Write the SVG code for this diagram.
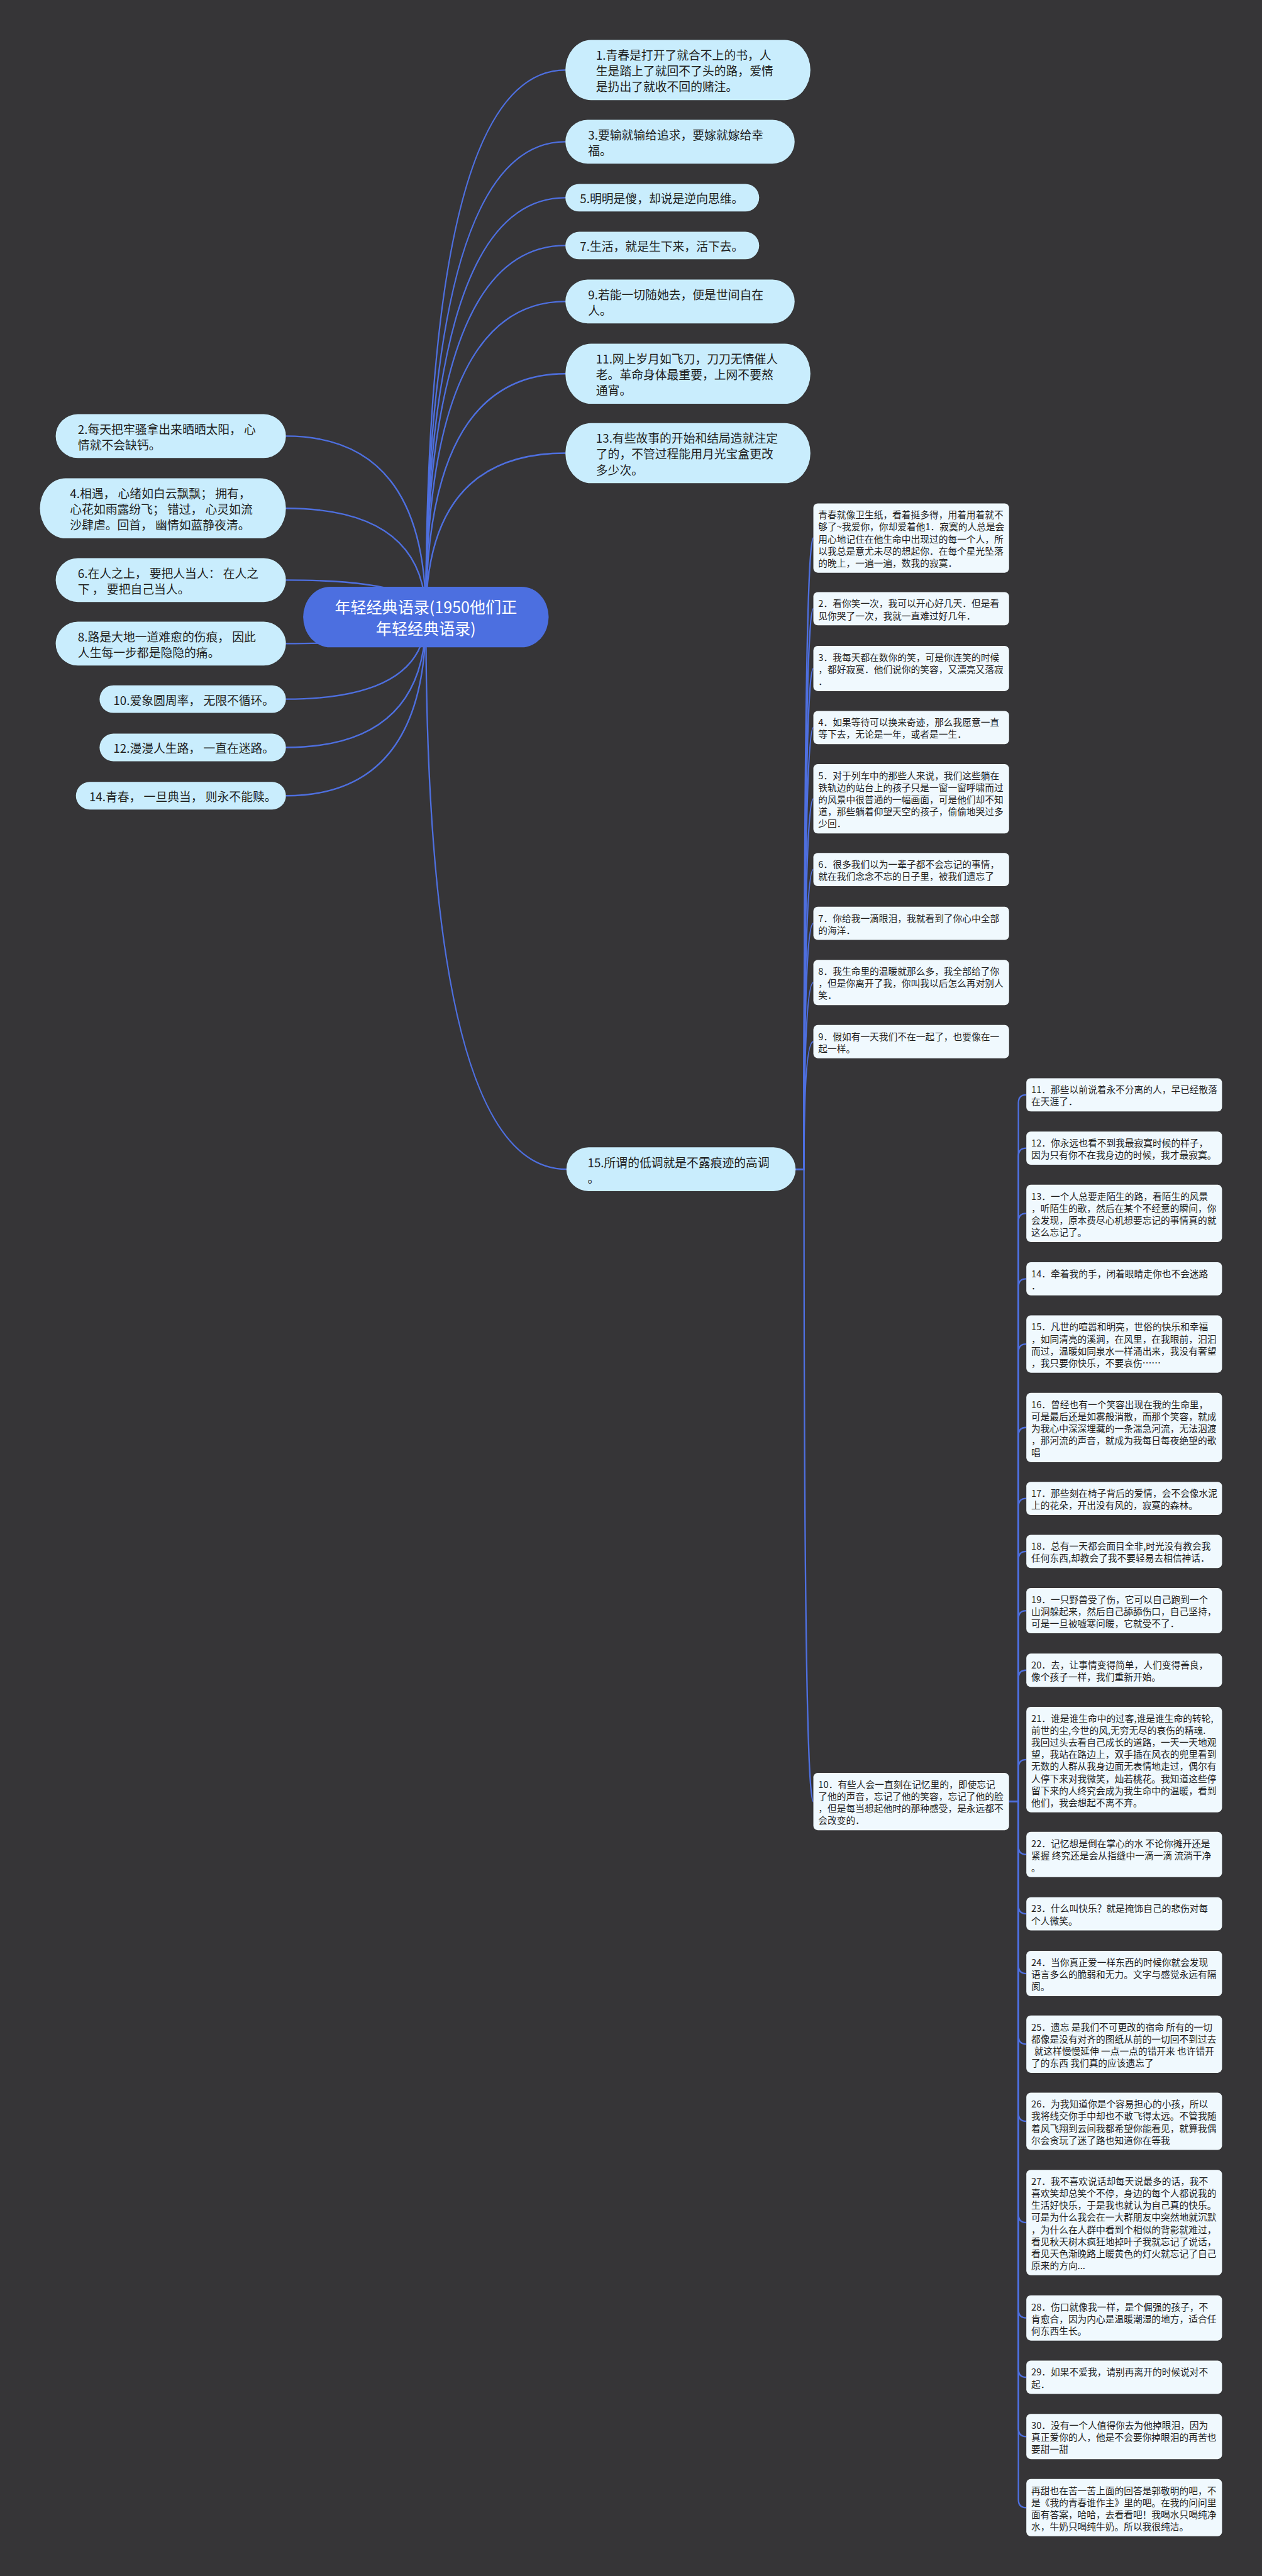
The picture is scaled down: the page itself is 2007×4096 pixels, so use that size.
<svg xmlns="http://www.w3.org/2000/svg" width="2007" height="4096" viewBox="0 0 2007 4096">
<style>
.ln{fill:none;stroke:#4E6FDF;stroke-width:3}
.l1{fill:#C9EDFD}
.cb{fill:#F0F9FE}
.t1{font-family:"Noto Sans CJK SC","Noto Sans",sans-serif;font-size:24px;fill:#1E1E1E;dominant-baseline:central}
.t2{font-family:"Noto Sans CJK SC","Noto Sans",sans-serif;font-size:18.8px;fill:#1E1E1E;dominant-baseline:central}
.tr{font-family:"Noto Sans CJK SC","Noto Sans",sans-serif;font-size:32px;fill:#FFFFFF;dominant-baseline:central;text-anchor:middle}
</style>
<rect x="0" y="0" width="2007" height="4096" fill="#363537"/>
<g transform="scale(0.78395)">
<g id="connectors">
<path class="ln" d="M864 1251Q864 142 1147 142"/>
<path class="ln" d="M864 1251Q864 287.5 1147 287.5"/>
<path class="ln" d="M864 1251Q864 401 1147 401"/>
<path class="ln" d="M864 1251Q864 498 1147 498"/>
<path class="ln" d="M864 1251Q864 611.5 1147 611.5"/>
<path class="ln" d="M864 1251Q864 758 1147 758"/>
<path class="ln" d="M864 1251Q864 919 1147 919"/>
<path class="ln" d="M864 1251Q864 2371.5 1149 2371.5"/>
<path class="ln" d="M864 1251Q864 884.5 580 884.5"/>
<path class="ln" d="M864 1251Q864 1031 580 1031"/>
<path class="ln" d="M864 1251Q864 1176.5 580 1176.5"/>
<path class="ln" d="M864 1251Q864 1305.5 580 1305.5"/>
<path class="ln" d="M864 1251Q864 1418 580 1418"/>
<path class="ln" d="M864 1251Q864 1516 580 1516"/>
<path class="ln" d="M864 1251Q864 1614 580 1614"/>
<path class="ln" d="M1614 2371.5H1631Q1631 1091.3 1650 1091.3"/>
<path class="ln" d="M1614 2371.5H1631Q1631 1234.7 1650 1234.7"/>
<path class="ln" d="M1614 2371.5H1631Q1631 1355.9 1650 1355.9"/>
<path class="ln" d="M1614 2371.5H1631Q1631 1475.7 1650 1475.7"/>
<path class="ln" d="M1614 2371.5H1631Q1631 1620.3 1650 1620.3"/>
<path class="ln" d="M1614 2371.5H1631Q1631 1763.7 1650 1763.7"/>
<path class="ln" d="M1614 2371.5H1631Q1631 1872.7 1650 1872.7"/>
<path class="ln" d="M1614 2371.5H1631Q1631 1992.9 1650 1992.9"/>
<path class="ln" d="M1614 2371.5H1631Q1631 2112.7 1650 2112.7"/>
<path class="ln" d="M1614 2371.5H1631Q1631 3654.1 1650 3654.1"/>
<path class="ln" d="M2047 3654H2066V2236.7Q2066 2220.7 2082 2220.7"/>
<path class="ln" d="M2047 3654H2066V2344.7Q2066 2328.7 2082 2328.7"/>
<path class="ln" d="M2047 3654H2066V2477.1Q2066 2461.1 2082 2461.1"/>
<path class="ln" d="M2047 3654H2066V2609.7Q2066 2593.7 2082 2593.7"/>
<path class="ln" d="M2047 3654H2066V2742.1Q2066 2726.1 2082 2726.1"/>
<path class="ln" d="M2047 3654H2066V2911.3Q2066 2895.3 2082 2895.3"/>
<path class="ln" d="M2047 3654H2066V3055.2Q2066 3039.2 2082 3039.2"/>
<path class="ln" d="M2047 3654H2066V3162.7Q2066 3146.7 2082 3146.7"/>
<path class="ln" d="M2047 3654H2066V3282.9Q2066 3266.9 2082 3266.9"/>
<path class="ln" d="M2047 3654H2066V3403.7Q2066 3387.7 2082 3387.7"/>
<path class="ln" d="M2047 3654H2066V3584.9Q2066 3568.9 2082 3568.9"/>
<path class="ln" d="M2047 3654H2066V3745.4Q2066 3761.4 2082 3761.4"/>
<path class="ln" d="M2047 3654H2066V3865.7Q2066 3881.7 2082 3881.7"/>
<path class="ln" d="M2047 3654H2066V3986.9Q2066 4002.9 2082 4002.9"/>
<path class="ln" d="M2047 3654H2066V4130.1Q2066 4146.1 2082 4146.1"/>
<path class="ln" d="M2047 3654H2066V4286.6Q2066 4302.6 2082 4302.6"/>
<path class="ln" d="M2047 3654H2066V4491.9Q2066 4507.9 2082 4507.9"/>
<path class="ln" d="M2047 3654H2066V4685.4Q2066 4701.4 2082 4701.4"/>
<path class="ln" d="M2047 3654H2066V4805.7Q2066 4821.7 2082 4821.7"/>
<path class="ln" d="M2047 3654H2066V4925.9Q2066 4941.9 2082 4941.9"/>
<path class="ln" d="M2047 3654H2066V5070.1Q2066 5086.1 2082 5086.1"/>
</g>

<g id="root">
<rect x="615" y="1190" width="498" height="123" rx="55" ry="61.5" fill="#4C6FE0"/>
<text class="tr"><tspan x="864" y="1229.5">年轻经典语录(1950他们正</tspan><tspan x="864" y="1273.5">年轻经典语录)</tspan></text>
</g>

<g id="n1"><rect class="l1" x="1147" y="81" width="497" height="122" rx="52" ry="61"/>
<text class="t1"><tspan x="1209" y="110">1.青春是打开了就合不上的书，人</tspan><tspan x="1209" y="142">生是踏上了就回不了头的路，爱情</tspan><tspan x="1209" y="174">是扔出了就收不回的赌注。</tspan></text></g>
<g id="n3"><rect class="l1" x="1147" y="243" width="465" height="89" rx="45" ry="44.5"/>
<text class="t1"><tspan x="1193" y="271.5">3.要输就输给追求，要嫁就嫁给幸</tspan><tspan x="1193" y="303.5">福。</tspan></text></g>
<g id="n5"><rect class="l1" x="1147" y="373" width="393" height="56" rx="28" ry="28"/>
<text class="t1"><tspan x="1176.5" y="401">5.明明是傻，却说是逆向思维。</tspan></text></g>
<g id="n7"><rect class="l1" x="1147" y="470" width="393" height="56" rx="28" ry="28"/>
<text class="t1"><tspan x="1176.5" y="498">7.生活，就是生下来，活下去。</tspan></text></g>
<g id="n9"><rect class="l1" x="1147" y="567" width="465" height="89" rx="45" ry="44.5"/>
<text class="t1"><tspan x="1193" y="595.5">9.若能一切随她去，便是世间自在</tspan><tspan x="1193" y="627.5">人。</tspan></text></g>
<g id="n11"><rect class="l1" x="1147" y="697" width="497" height="122" rx="52" ry="61"/>
<text class="t1"><tspan x="1209" y="726">11.网上岁月如飞刀，刀刀无情催人</tspan><tspan x="1209" y="758">老。革命身体最重要，上网不要熬</tspan><tspan x="1209" y="790">通宵。</tspan></text></g>
<g id="n13"><rect class="l1" x="1147" y="858" width="497" height="122" rx="52" ry="61"/>
<text class="t1"><tspan x="1209" y="887">13.有些故事的开始和结局造就注定</tspan><tspan x="1209" y="919">了的，不管过程能用月光宝盒更改</tspan><tspan x="1209" y="951">多少次。</tspan></text></g>
<g id="n15"><rect class="l1" x="1149" y="2327" width="465" height="89" rx="45" ry="44.5"/>
<text class="t1"><tspan x="1192" y="2355.5">15.所谓的低调就是不露痕迹的高调</tspan><tspan x="1192" y="2387.5">。</tspan></text></g>

<g id="n2"><rect class="l1" x="113" y="840" width="467" height="89" rx="45" ry="44.5"/>
<text class="t1"><tspan x="158" y="868.5">2.每天把牢骚拿出来晒晒太阳， 心</tspan><tspan x="158" y="900.5">情就不会缺钙。</tspan></text></g>
<g id="n4"><rect class="l1" x="81" y="970" width="499" height="122" rx="52" ry="61"/>
<text class="t1"><tspan x="142" y="999">4.相遇， 心绪如白云飘飘； 拥有，</tspan><tspan x="142" y="1031">心花如雨露纷飞； 错过， 心灵如流</tspan><tspan x="142" y="1063">沙肆虐。回首， 幽情如蓝静夜清。</tspan></text></g>
<g id="n6"><rect class="l1" x="113" y="1132" width="467" height="89" rx="45" ry="44.5"/>
<text class="t1"><tspan x="158" y="1160.5">6.在人之上， 要把人当人： 在人之</tspan><tspan x="158" y="1192.5">下 ， 要把自己当人。</tspan></text></g>
<g id="n8"><rect class="l1" x="113" y="1261" width="467" height="89" rx="45" ry="44.5"/>
<text class="t1"><tspan x="158" y="1289.5">8.路是大地一道难愈的伤痕， 因此</tspan><tspan x="158" y="1321.5">人生每一步都是隐隐的痛。</tspan></text></g>
<g id="n10"><rect class="l1" x="202" y="1390" width="378" height="56" rx="28" ry="28"/>
<text class="t1"><tspan x="230" y="1418">10.爱象圆周率， 无限不循环。</tspan></text></g>
<g id="n12"><rect class="l1" x="202" y="1488" width="378" height="56" rx="28" ry="28"/>
<text class="t1"><tspan x="230" y="1516">12.漫漫人生路， 一直在迷路。</tspan></text></g>
<g id="n14"><rect class="l1" x="154" y="1586" width="426" height="56" rx="28" ry="28"/>
<text class="t1"><tspan x="181" y="1614">14.青春， 一旦典当， 则永不能赎。</tspan></text></g>

<g id="c1a"><rect class="cb" x="1650" y="1021" width="397" height="140.6" rx="9"/>
<text class="t2"><tspan x="1660" y="1042.5">青春就像卫生纸，看着挺多得，用着用着就不</tspan><tspan x="1660" dy="24.4">够了~我爱你，你却爱着他1．寂寞的人总是会</tspan><tspan x="1660" dy="24.4">用心地记住在他生命中出现过的每一个人，所</tspan><tspan x="1660" dy="24.4">以我总是意尤未尽的想起你．在每个星光坠落</tspan><tspan x="1660" dy="24.4">的晚上，一遍一遍，数我的寂寞．</tspan></text></g>
<g id="c1b"><rect class="cb" x="1650" y="1201" width="397" height="67.4" rx="9"/>
<text class="t2"><tspan x="1660" y="1222.5">2．看你笑一次，我可以开心好几天．但是看</tspan><tspan x="1660" dy="24.4">见你哭了一次，我就一直难过好几年．</tspan></text></g>
<g id="c1c"><rect class="cb" x="1650" y="1310" width="397" height="91.8" rx="9"/>
<text class="t2"><tspan x="1660" y="1331.5">3．我每天都在数你的笑，可是你连笑的时候</tspan><tspan x="1660" dy="24.4">，都好寂寞．他们说你的笑容，又漂亮又落寂</tspan><tspan x="1660" dy="24.4">．</tspan></text></g>
<g id="c1d"><rect class="cb" x="1650" y="1442" width="397" height="67.4" rx="9"/>
<text class="t2"><tspan x="1660" y="1463.5">4．如果等待可以换来奇迹，那么我愿意一直</tspan><tspan x="1660" dy="24.4">等下去，无论是一年，或者是一生．</tspan></text></g>
<g id="c1e"><rect class="cb" x="1650" y="1550" width="397" height="140.6" rx="9"/>
<text class="t2"><tspan x="1660" y="1571.5">5．对于列车中的那些人来说，我们这些躺在</tspan><tspan x="1660" dy="24.4">铁轨边的站台上的孩子只是一窗一窗呼啸而过</tspan><tspan x="1660" dy="24.4">的风景中很普通的一幅画面，可是他们却不知</tspan><tspan x="1660" dy="24.4">道，那些躺着仰望天空的孩子，偷偷地哭过多</tspan><tspan x="1660" dy="24.4">少回．</tspan></text></g>
<g id="c1f"><rect class="cb" x="1650" y="1730" width="397" height="67.4" rx="9"/>
<text class="t2"><tspan x="1660" y="1751.5">6．很多我们以为一辈子都不会忘记的事情，</tspan><tspan x="1660" dy="24.4">就在我们念念不忘的日子里，被我们遗忘了</tspan></text></g>
<g id="c1g"><rect class="cb" x="1650" y="1839" width="397" height="67.4" rx="9"/>
<text class="t2"><tspan x="1660" y="1860.5">7．你给我一滴眼泪，我就看到了你心中全部</tspan><tspan x="1660" dy="24.4">的海洋．</tspan></text></g>
<g id="c1h"><rect class="cb" x="1650" y="1947" width="397" height="91.8" rx="9"/>
<text class="t2"><tspan x="1660" y="1968.5">8．我生命里的温暖就那么多，我全部给了你</tspan><tspan x="1660" dy="24.4">，但是你离开了我，你叫我以后怎么再对别人</tspan><tspan x="1660" dy="24.4">笑．</tspan></text></g>
<g id="c1i"><rect class="cb" x="1650" y="2079" width="397" height="67.4" rx="9"/>
<text class="t2"><tspan x="1660" y="2100.5">9．假如有一天我们不在一起了，也要像在一</tspan><tspan x="1660" dy="24.4">起一样。</tspan></text></g>
<g id="c1j"><rect class="cb" x="1650" y="3596" width="397" height="116.2" rx="9"/>
<text class="t2"><tspan x="1660" y="3617.5">10．有些人会一直刻在记忆里的，即使忘记</tspan><tspan x="1660" dy="24.4">了他的声音，忘记了他的笑容，忘记了他的脸</tspan><tspan x="1660" dy="24.4">，但是每当想起他时的那种感受，是永远都不</tspan><tspan x="1660" dy="24.4">会改变的．</tspan></text></g>

<g id="c2-11"><rect class="cb" x="2082" y="2187" width="397" height="67.4" rx="9"/>
<text class="t2"><tspan x="2092" y="2208.5">11．那些以前说着永不分离的人，早已经散落</tspan><tspan x="2092" dy="24.4">在天涯了．</tspan></text></g>
<g id="c2-12"><rect class="cb" x="2082" y="2295" width="397" height="67.4" rx="9"/>
<text class="t2"><tspan x="2092" y="2316.5">12．你永远也看不到我最寂寞时候的样子，</tspan><tspan x="2092" dy="24.4">因为只有你不在我身边的时候，我才最寂寞。</tspan></text></g>
<g id="c2-13"><rect class="cb" x="2082" y="2403" width="397" height="116.2" rx="9"/>
<text class="t2"><tspan x="2092" y="2424.5">13．一个人总要走陌生的路，看陌生的风景</tspan><tspan x="2092" dy="24.4">，听陌生的歌，然后在某个不经意的瞬间，你</tspan><tspan x="2092" dy="24.4">会发现，原本费尽心机想要忘记的事情真的就</tspan><tspan x="2092" dy="24.4">这么忘记了。</tspan></text></g>
<g id="c2-14"><rect class="cb" x="2082" y="2560" width="397" height="67.4" rx="9"/>
<text class="t2"><tspan x="2092" y="2581.5">14．牵着我的手，闭着眼睛走你也不会迷路</tspan><tspan x="2092" dy="24.4">．</tspan></text></g>
<g id="c2-15"><rect class="cb" x="2082" y="2668" width="397" height="116.2" rx="9"/>
<text class="t2"><tspan x="2092" y="2689.5">15．凡世的喧嚣和明亮，世俗的快乐和幸福</tspan><tspan x="2092" dy="24.4">，如同清亮的溪涧，在风里，在我眼前，汩汩</tspan><tspan x="2092" dy="24.4">而过，温暖如同泉水一样涌出来，我没有奢望</tspan><tspan x="2092" dy="24.4">，我只要你快乐，不要哀伤……</tspan></text></g>
<g id="c2-16"><rect class="cb" x="2082" y="2825" width="397" height="140.6" rx="9"/>
<text class="t2"><tspan x="2092" y="2846.5">16．曾经也有一个笑容出现在我的生命里，</tspan><tspan x="2092" dy="24.4">可是最后还是如雾般消散，而那个笑容，就成</tspan><tspan x="2092" dy="24.4">为我心中深深埋藏的一条湍急河流，无法泅渡</tspan><tspan x="2092" dy="24.4">，那河流的声音，就成为我每日每夜绝望的歌</tspan><tspan x="2092" dy="24.4">唱</tspan></text></g>
<g id="c2-17"><rect class="cb" x="2082" y="3005.5" width="397" height="67.4" rx="9"/>
<text class="t2"><tspan x="2092" y="3027">17．那些刻在椅子背后的爱情，会不会像水泥</tspan><tspan x="2092" dy="24.4">上的花朵，开出没有风的，寂寞的森林。</tspan></text></g>
<g id="c2-18"><rect class="cb" x="2082" y="3113" width="397" height="67.4" rx="9"/>
<text class="t2"><tspan x="2092" y="3134.5">18．总有一天都会面目全非,时光没有教会我</tspan><tspan x="2092" dy="24.4">任何东西,却教会了我不要轻易去相信神话．</tspan></text></g>
<g id="c2-19"><rect class="cb" x="2082" y="3221" width="397" height="91.8" rx="9"/>
<text class="t2"><tspan x="2092" y="3242.5">19．一只野兽受了伤，它可以自己跑到一个</tspan><tspan x="2092" dy="24.4">山洞躲起来，然后自己舔舔伤口，自己坚持，</tspan><tspan x="2092" dy="24.4">可是一旦被嘘寒问暖，它就受不了．</tspan></text></g>
<g id="c2-20"><rect class="cb" x="2082" y="3354" width="397" height="67.4" rx="9"/>
<text class="t2"><tspan x="2092" y="3375.5">20．去，让事情变得简单，人们变得善良，</tspan><tspan x="2092" dy="24.4">像个孩子一样，我们重新开始。</tspan></text></g>
<g id="c2-21"><rect class="cb" x="2082" y="3462" width="397" height="213.8" rx="9"/>
<text class="t2"><tspan x="2092" y="3483.5">21．谁是谁生命中的过客,谁是谁生命的转轮,</tspan><tspan x="2092" dy="24.4">前世的尘,今世的风,无穷无尽的哀伤的精魂.</tspan><tspan x="2092" dy="24.4">我回过头去看自己成长的道路，一天一天地观</tspan><tspan x="2092" dy="24.4">望，我站在路边上，双手插在风衣的兜里看到</tspan><tspan x="2092" dy="24.4">无数的人群从我身边面无表情地走过，偶尔有</tspan><tspan x="2092" dy="24.4">人停下来对我微笑，灿若桃花。我知道这些停</tspan><tspan x="2092" dy="24.4">留下来的人终究会成为我生命中的温暖，看到</tspan><tspan x="2092" dy="24.4">他们，我会想起不离不弃。</tspan></text></g>
<g id="c2-22"><rect class="cb" x="2082" y="3715.5" width="397" height="91.8" rx="9"/>
<text class="t2"><tspan x="2092" y="3737">22．记忆想是倒在掌心的水 不论你摊开还是</tspan><tspan x="2092" dy="24.4">紧握 终究还是会从指缝中一滴一滴 流淌干净</tspan><tspan x="2092" dy="24.4">。</tspan></text></g>
<g id="c2-23"><rect class="cb" x="2082" y="3848" width="397" height="67.4" rx="9"/>
<text class="t2"><tspan x="2092" y="3869.5">23．什么叫快乐？就是掩饰自己的悲伤对每</tspan><tspan x="2092" dy="24.4">个人微笑。</tspan></text></g>
<g id="c2-24"><rect class="cb" x="2082" y="3957" width="397" height="91.8" rx="9"/>
<text class="t2"><tspan x="2092" y="3978.5">24．当你真正爱一样东西的时候你就会发现</tspan><tspan x="2092" dy="24.4">语言多么的脆弱和无力。文字与感觉永远有隔</tspan><tspan x="2092" dy="24.4">阂。</tspan></text></g>
<g id="c2-25"><rect class="cb" x="2082" y="4088" width="397" height="116.2" rx="9"/>
<text class="t2"><tspan x="2092" y="4109.5">25．遗忘 是我们不可更改的宿命 所有的一切</tspan><tspan x="2092" dy="24.4">都像是没有对齐的图纸从前的一切回不到过去</tspan><tspan x="2098" dy="24.4">就这样慢慢延伸 一点一点的错开来 也许错开</tspan><tspan x="2092" dy="24.4">了的东西 我们真的应该遗忘了</tspan></text></g>
<g id="c2-26"><rect class="cb" x="2082" y="4244.5" width="397" height="116.2" rx="9"/>
<text class="t2"><tspan x="2092" y="4266">26．为我知道你是个容易担心的小孩，所以</tspan><tspan x="2092" dy="24.4">我将线交你手中却也不敢飞得太远。不管我随</tspan><tspan x="2092" dy="24.4">着风飞翔到云间我都希望你能看见，就算我偶</tspan><tspan x="2092" dy="24.4">尔会贪玩了迷了路也知道你在等我</tspan></text></g>
<g id="c2-27"><rect class="cb" x="2082" y="4401" width="397" height="213.8" rx="9"/>
<text class="t2"><tspan x="2092" y="4422.5">27．我不喜欢说话却每天说最多的话，我不</tspan><tspan x="2092" dy="24.4">喜欢笑却总笑个不停，身边的每个人都说我的</tspan><tspan x="2092" dy="24.4">生活好快乐，于是我也就认为自己真的快乐。</tspan><tspan x="2092" dy="24.4">可是为什么我会在一大群朋友中突然地就沉默</tspan><tspan x="2092" dy="24.4">，为什么在人群中看到个相似的背影就难过，</tspan><tspan x="2092" dy="24.4">看见秋天树木疯狂地掉叶子我就忘记了说话，</tspan><tspan x="2092" dy="24.4">看见天色渐晚路上暖黄色的灯火就忘记了自己</tspan><tspan x="2092" dy="24.4">原来的方向...</tspan></text></g>
<g id="c2-28"><rect class="cb" x="2082" y="4655.5" width="397" height="91.8" rx="9"/>
<text class="t2"><tspan x="2092" y="4677">28．伤口就像我一样，是个倔强的孩子，不</tspan><tspan x="2092" dy="24.4">肯愈合，因为内心是温暖潮湿的地方，适合任</tspan><tspan x="2092" dy="24.4">何东西生长。</tspan></text></g>
<g id="c2-29"><rect class="cb" x="2082" y="4788" width="397" height="67.4" rx="9"/>
<text class="t2"><tspan x="2092" y="4809.5">29．如果不爱我，请别再离开的时候说对不</tspan><tspan x="2092" dy="24.4">起．</tspan></text></g>
<g id="c2-30"><rect class="cb" x="2082" y="4896" width="397" height="91.8" rx="9"/>
<text class="t2"><tspan x="2092" y="4917.5">30．没有一个人值得你去为他掉眼泪，因为</tspan><tspan x="2092" dy="24.4">真正爱你的人，他是不会要你掉眼泪的再苦也</tspan><tspan x="2092" dy="24.4">要甜一甜</tspan></text></g>
<g id="c2-31"><rect class="cb" x="2082" y="5028" width="397" height="116.2" rx="9"/>
<text class="t2"><tspan x="2092" y="5049.5">再甜也在苦一苦上面的回答是郭敬明的吧，不</tspan><tspan x="2092" dy="24.4">是《我的青春谁作主》里的吧。在我的问问里</tspan><tspan x="2092" dy="24.4">面有答案，哈哈，去看看吧！我喝水只喝纯净</tspan><tspan x="2092" dy="24.4">水，牛奶只喝纯牛奶。所以我很纯洁。</tspan></text></g>
</g>
</svg>
